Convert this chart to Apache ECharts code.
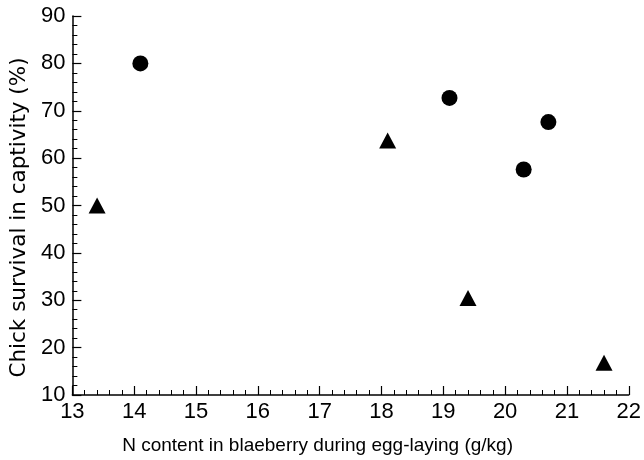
<!DOCTYPE html>
<html>
<head>
<meta charset="utf-8">
<script src="https://cdn.jsdelivr.net/npm/echarts@6/dist/echarts.min.js"></script>
<style>
  html, body { margin: 0; padding: 0; background: #fff; }
  #chart { width: 644px; height: 460px; }
</style>
</head>
<body>
<div id="chart"></div>
<script>
// circles (filled dots)
var circleX = [14.1, 19.1, 20.7, 20.3];
var circleY = [80, 72.7, 67.6, 57.6];
// triangles
var triangleX = [13.4, 18.1, 19.4, 21.6];
var triangleY = [50, 63.7, 30.5, 16.8];

var fontName = 'Liberation Sans';

function pairs(xs, ys) {
    var out = [];
    for (var i = 0; i < xs.length; i++) {
        out.push([xs[i], ys[i]]);
    }
    return out;
}

var myChart = echarts.init(document.getElementById('chart'));
var options = {
    animation: false,
    backgroundColor: '#fff',
    grid: { left: 71, right: 14, top: 16, bottom: 58 },
    xAxis: {
        type: 'value',
        min: 13, max: 22, interval: 1,
        name: 'N content in blaeberry during egg-laying (g/kg)',
        nameLocation: 'middle',
        nameGap: 41,
        nameTextStyle: { color: '#000', fontSize: 19, fontFamily: fontName, padding: [0, 66, 0, 0] },
        axisLine: { lineStyle: { color: '#000', width: 1.5 } },
        axisTick: { inside: true, length: 9, lineStyle: { color: '#000', width: 1.2 } },
        minorTick: { show: true, splitNumber: 5, length: 5, lineStyle: { color: '#000', width: 1 } },
        axisLabel: { color: '#000', fontSize: 22, fontFamily: fontName, margin: 6 },
        splitLine: { show: false }
    },
    yAxis: {
        type: 'value',
        min: 10, max: 90, interval: 10,
        name: 'Chick survival in captivity (%)',
        nameLocation: 'middle',
        nameGap: 40,
        // the print uses looser spacing here, DejaVu is wider
        nameTextStyle: { color: '#000', fontSize: 21.5, fontFamily: 'DejaVu Sans', padding: [0, 24, 0, 0] },
        axisLine: { show: true, lineStyle: { color: '#000', width: 1.5 } },
        axisTick: { show: true, inside: true, length: 9, lineStyle: { color: '#000', width: 1.2 } },
        minorTick: { show: true, splitNumber: 5, length: 5, lineStyle: { color: '#000', width: 1 } },
        axisLabel: { color: '#000', fontSize: 22, fontFamily: fontName, margin: 7 },
        splitLine: { show: false }
    },
    series: [{
        name: 'circles',
        type: 'scatter',
        symbol: 'circle',
        symbolSize: 16,
        itemStyle: { color: '#000', opacity: 1 },
        data: pairs(circleX, circleY)
    }, {
        name: 'triangles',
        type: 'scatter',
        symbol: 'triangle',
        symbolSize: [17, 16],
        itemStyle: { color: '#000', opacity: 1 },
        data: pairs(triangleX, triangleY)
    }]
};
myChart.setOption(options, true);
</script>
</body>
</html>
